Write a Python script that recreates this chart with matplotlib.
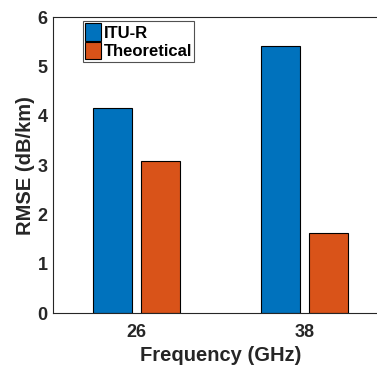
import matplotlib

matplotlib.use("Agg")
import matplotlib.pyplot as plt
import numpy as np

# data
freqs = ["26", "38"]
series = ["ITU-R", "Theoretical"]
itu_r = [4.17, 5.41]
theoretical = [3.09, 1.62]
colors = ["#0072BD", "#D95319"]

plt.rcParams["font.family"] = ["Liberation Sans", "DejaVu Sans"]
plt.rcParams["font.weight"] = "bold"

fig = plt.figure(figsize=(3.77, 3.65), dpi=100)
W, H = 377, 365
# axes runs past the right edge of the figure, like the reference
left, right, top, bottom = 53, 388, 17.3, 313.3
ax = fig.add_axes([left / W, 1 - bottom / H, (right - left) / W, (bottom - top) / H])

x = np.arange(1, len(freqs) + 1)
bw = 0.232
off = 0.143
ax.bar(x - off, itu_r, bw, color=colors[0], edgecolor="black", lw=0.8, label=series[0])
ax.bar(x + off, theoretical, bw, color=colors[1], edgecolor="black", lw=0.8, label=series[1])

ax.set_xlim(0.5, 2.5)
ax.set_ylim(0, 6)
ax.set_xticks(x)
ax.set_xticklabels(freqs)
ax.set_yticks(range(0, 7))
ax.tick_params(direction="in", length=0, labelsize=13, colors="#262626")
ax.tick_params(axis="y", pad=4)
ax.tick_params(axis="x", pad=8)
for s in ax.spines.values():
    s.set_color("#262626")
    s.set_linewidth(0.8)

ax.set_xlabel("Frequency (GHz)", fontsize=14.5, fontweight="bold", color="#262626", labelpad=3)
ax.set_ylabel("RMSE (dB/km)", fontsize=14.5, fontweight="bold", color="#262626", labelpad=2)

leg = ax.legend(loc="upper left", bbox_to_anchor=((82.7 - left) / (right - left), 1 - (20.7 - top) / (bottom - top)),
                fontsize=12, frameon=True, fancybox=False, borderpad=0.15, handlelength=0.95,
                handleheight=1.25, handletextpad=0.15, labelspacing=0.05, borderaxespad=0)
leg.get_frame().set_edgecolor("#262626")
leg.get_frame().set_linewidth(0.8)
for t in leg.get_texts():
    t.set_fontweight("bold")

fig.savefig("out.png", dpi=100)
